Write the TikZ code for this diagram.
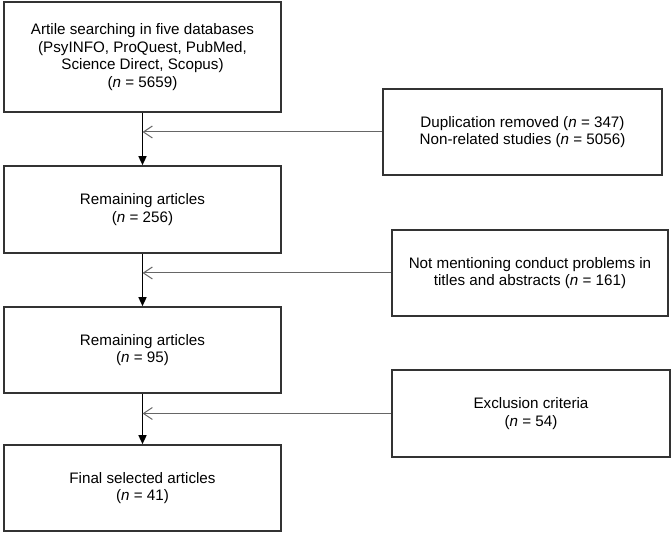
\documentclass[tikz,border=0pt]{standalone}
\usepackage{fontspec}
\setmainfont{Liberation Sans}
\usetikzlibrary{arrows.meta}
\begin{document}
\begin{tikzpicture}[x=1pt,y=-1pt,
  box/.style={draw=black!80, fill=white, line width=1.6pt, rectangle, inner sep=0pt, align=center,
    font=\fontsize{15.2}{17.5}\selectfont},
  trunk/.style={draw=black, line width=1.4pt, -{Triangle[length=9pt,width=8pt]}},
  side/.style={draw=black!60, line width=1pt, -{Straight Barb[length=9pt,width=12pt,line width=1pt]}}]
\useasboundingbox (0,0) rectangle (672,534);

\node[box, minimum width=277pt, minimum height=110pt] (b1) at (142.5,57)
  {Artile searching in five databases\\(PsyINFO, ProQuest, PubMed,\\Science Direct, Scopus)\\(\textit{n} = 5659)};
\node[box, minimum width=277pt, minimum height=87pt] (b2) at (142.5,209.5)
  {Remaining articles\\(\textit{n} = 256)};
\node[box, minimum width=277pt, minimum height=86pt] (b3) at (142.5,350)
  {Remaining articles\\(\textit{n} = 95)};
\node[box, minimum width=277pt, minimum height=86pt] (b4) at (142.5,488)
  {Final selected articles\\(\textit{n} = 41)};

\node[box, minimum width=279pt, minimum height=86pt] (s1) at (522.5,132)
  {Duplication removed (\textit{n} = 347)\\Non-related studies (\textit{n} = 5056)};
\node[box, minimum width=276pt, minimum height=86pt] (s2) at (530,273)
  {Not mentioning conduct problems in\\titles and abstracts (\textit{n} = 161)};
\node[box, minimum width=278pt, minimum height=87pt] (s3) at (531,413.5)
  {Exclusion criteria\\(\textit{n} = 54)};

\draw[trunk] (b1.south) -- (b2.north);
\draw[trunk] (b2.south) -- (b3.north);
\draw[trunk] (b3.south) -- (b4.north);

\draw[side] (s1.west) -- (s1.west -| b1.south);
\draw[side] (s2.west) -- (s2.west -| b2.south);
\draw[side] (s3.west) -- (s3.west -| b3.south);
\end{tikzpicture}
\end{document}
